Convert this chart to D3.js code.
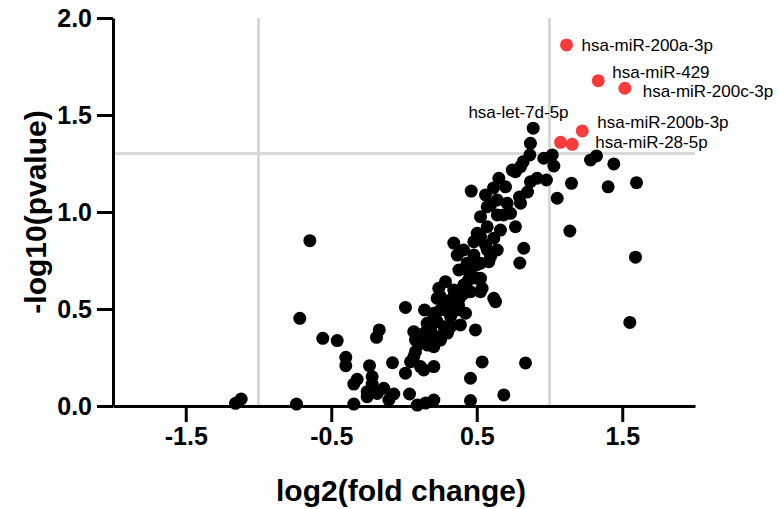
<!DOCTYPE html>
<html>
<head>
<meta charset="utf-8">
<script src="https://cdn.jsdelivr.net/npm/d3@7"></script>
<style>
  body { margin: 0; background: #fff; }
  svg { display: block; font-family: "Liberation Sans", Arial, sans-serif; }
  .axis path, .axis line { stroke: #000; stroke-width: 3; }
  .ref-line { stroke: #d9d9d9; stroke-width: 3; }
  .title { font-size: 30px; font-weight: bold; }
  .gene { font-size: 17px; }
  .tick-label { font-family: "Liberation Sans", Arial, sans-serif; font-size: 25px; font-weight: bold; fill: #000; }
</style>
</head>
<body>
<svg id="chart" width="779" height="509"></svg>
<script>
// x = log2(fold change), y = -log10(pvalue)
const blackX = [-1.158, -1.119, -0.739, -0.716, -0.647, -0.558, -0.459, -0.400, -0.400, -0.345,
  -0.345, -0.322, -0.253, -0.253, -0.237, -0.219, -0.219, -0.189, -0.170, -0.184,
  -0.139, -0.104, -0.079, -0.070, 0.010, 0.010, 0.038, 0.067, 0.079, 0.067,
  0.045, 0.091, 0.148, 0.205, 0.141, 0.136, 0.205, 0.113, 0.079, 0.113,
  0.136, 0.159, 0.182, 0.182, 0.205, 0.205, 0.228, 0.228, 0.251, 0.251,
  0.274, 0.297, 0.320, 0.320, 0.342, 0.366, 0.366, 0.388, 0.411, 0.423,
  0.491, 0.526, 0.629, 0.537, 0.457, 0.457, 0.686, 0.835, 0.205, 0.366,
  0.388, 0.228, 0.239, 0.285, 0.342, 0.411, 0.457, 0.388, 0.617, 0.377,
  0.457, 0.526, 0.537, 0.366, 0.480, 0.434, 0.526, 0.583, 0.342, 0.480,
  0.526, 0.617, 0.641, 0.572, 0.503, 0.572, 0.526, 0.641, 0.732, 0.766,
  0.823, 0.796, 0.595, 0.709, 0.801, 0.572, 0.641, 0.462, 0.652, 0.698,
  0.869, 0.915, 0.979, 1.053, 0.744, 0.766, 0.801, 0.819, 0.865, 0.869,
  0.888, 0.961, 1.019, 1.030, 1.282, 1.323, 1.442, 1.151, 1.403, 1.598,
  1.140, 1.591, 1.552, 0.434, 0.503, 0.595, 0.794, 0.849, 0.409, 0.498,
  0.443, 0.320, 0.375, 0.285, 0.182, 0.162, 0.251, 0.299, 0.560, 0.663,
  0.684, 0.615, 0.560];
const blackY = [0.014, 0.036, 0.010, 0.452, 0.852, 0.349, 0.337, 0.251, 0.208, 0.010,
  0.113, 0.138, 0.074, 0.048, 0.208, 0.151, 0.113, 0.354, 0.392, 0.065,
  0.091, 0.031, 0.223, 0.062, 0.508, 0.169, 0.062, 0.383, 0.340, 0.254,
  0.228, 0.005, 0.015, 0.031, 0.495, 0.186, 0.203, 0.203, 0.280, 0.323,
  0.375, 0.426, 0.409, 0.340, 0.306, 0.460, 0.435, 0.357, 0.495, 0.563,
  0.409, 0.529, 0.460, 0.409, 0.563, 0.589, 0.495, 0.418, 0.581, 0.478,
  0.392, 0.589, 0.538, 0.227, 0.143, 0.028, 0.057, 0.222, 0.478, 0.546,
  0.598, 0.555, 0.607, 0.641, 0.598, 0.624, 0.589, 0.563, 0.555, 0.701,
  0.684, 0.658, 0.607, 0.778, 0.778, 0.736, 0.736, 0.744, 0.840, 0.847,
  0.873, 0.865, 0.804, 0.804, 0.890, 0.924, 0.976, 0.985, 0.993, 0.924,
  0.813, 0.737, 1.036, 1.045, 1.045, 1.027, 1.062, 1.108, 1.174, 1.130,
  1.156, 1.174, 1.165, 1.071, 1.216, 1.208, 1.234, 1.259, 1.294, 1.354,
  1.432, 1.277, 1.294, 1.237, 1.268, 1.289, 1.248, 1.148, 1.130, 1.151,
  0.902, 0.767, 0.431, 0.701, 0.658, 0.770, 1.077, 1.103, 0.804, 0.727,
  0.649, 0.546, 0.521, 0.495, 0.392, 0.314, 0.340, 0.376, 0.830, 0.907,
  0.985, 1.124, 1.088];

// highlighted miRNAs
const hitNames = ["hsa-miR-200a-3p", "hsa-miR-429", "hsa-miR-200c-3p", "hsa-miR-200b-3p", "hsa-miR-28-5p", "hsa-let-7d-5p"];
const hitX = [1.117, 1.335, 1.518, 1.225, 1.156, 1.076];
const hitY = [1.861, 1.677, 1.638, 1.418, 1.349, 1.359];

const xTicks = [-1.5, -0.5, 0.5, 1.5];
const yTicks = [0, 0.5, 1.0, 1.5, 2.0];
const fcCut = [-1, 1];
const pCut = -Math.log10(0.05);

// label placement (pixels from the dot)
const labelPos = [
  { dx: 15, dy: 6, anchor: "start" },
  { dx: 14, dy: -3, anchor: "start" },
  { dx: 18, dy: 9, anchor: "start" },
  { dx: 15, dy: -3, anchor: "start" },
  { dx: 23, dy: 4, anchor: "start" },
  { dx: 8, dy: -24, anchor: "end" }
];

const svg = d3.select("#chart");
const margin = { left: 113, right: 695, top: 18, bottom: 406 };

const x = d3.scaleLinear().domain([-2, 2]).range([margin.left, margin.right]);
const y = d3.scaleLinear().domain([0, 2]).range([margin.bottom, margin.top]);

const fmt = d => d3.format(".1f")(d).replace("\u2212", "-");

// Reference lines
svg.selectAll(".vref").data(fcCut).enter().append("line")
  .attr("class", "ref-line")
  .attr("x1", d => x(d)).attr("x2", d => x(d))
  .attr("y1", y(2)).attr("y2", y(0));

svg.append("line").attr("class", "ref-line")
  .attr("x1", x(-2)).attr("x2", x(2))
  .attr("y1", y(pCut)).attr("y2", y(pCut));

// Axes
svg.append("g").attr("class", "axis")
  .attr("transform", `translate(0,${margin.bottom})`)
  .call(d3.axisBottom(x).tickValues(xTicks).tickFormat(fmt)
    .tickSize(16).tickSizeOuter(0).tickPadding(5));

svg.append("g").attr("class", "axis")
  .attr("transform", `translate(${margin.left},0)`)
  .call(d3.axisLeft(y).tickValues(yTicks).tickFormat(fmt)
    .tickSize(16).tickSizeOuter(0).tickPadding(5));

svg.selectAll(".axis .tick text").attr("class", "tick-label");

// Dots
const black = blackX.map((v, i) => ({ x: v, y: blackY[i] }));
svg.append("g").selectAll("circle").data(black).enter().append("circle")
  .attr("cx", d => x(d.x)).attr("cy", d => y(d.y))
  .attr("r", 6.5).attr("fill", "#000");

const hits = hitNames.map((n, i) => ({ name: n, x: hitX[i], y: hitY[i], pos: labelPos[i] }));
svg.append("g").selectAll("circle").data(hits).enter().append("circle")
  .attr("cx", d => x(d.x)).attr("cy", d => y(d.y))
  .attr("r", 6.5).attr("fill", "#f83b3b");

svg.append("g").selectAll("text").data(hits).enter().append("text")
  .attr("class", "gene")
  .attr("x", d => x(d.x) + d.pos.dx)
  .attr("y", d => y(d.y) + d.pos.dy)
  .attr("text-anchor", d => d.pos.anchor)
  .text(d => d.name);

// Titles
svg.append("text").attr("class", "title")
  .attr("x", (margin.left + margin.right) / 2 - 3).attr("y", 501)
  .attr("text-anchor", "middle")
  .text("log2(fold change)");

svg.append("text").attr("class", "title")
  .attr("transform", `translate(46,${(margin.top + margin.bottom) / 2}) rotate(-90)`)
  .attr("text-anchor", "middle")
  .text("-log10(pvalue)");
</script>
</body>
</html>
